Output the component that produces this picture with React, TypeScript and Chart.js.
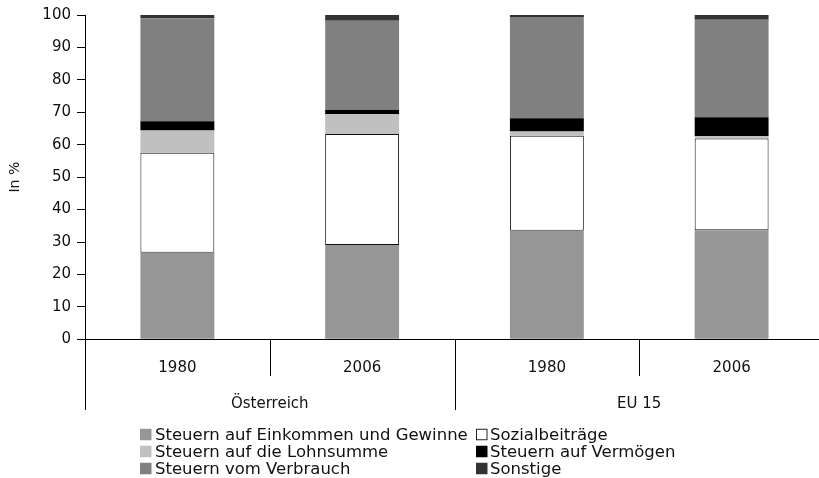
import React, { useEffect, useRef } from "react";
import { Chart, registerables } from "chart.js";

Chart.register(...registerables);

const categories = ["1980", "2006", "1980", "2006"];
const groups = ["Österreich", "EU 15"];
const seriesNames = [
  "Steuern auf Einkommen und Gewinne",
  "Sozialbeiträge",
  "Steuern auf die Lohnsumme",
  "Steuern auf Vermögen",
  "Steuern vom Verbrauch",
  "Sonstige",
];
const einkommen = [26.7, 29.1, 33.5, 33.6];
const sozial = [30.8, 34.2, 29.3, 28.3];
const lohnsumme = [6.9, 6.1, 1.3, 0.7];
const vermoegen = [2.8, 1.3, 4.1, 5.9];
const verbrauch = [31.8, 27.5, 31.2, 30.0];
const sonstige = [1.0, 1.8, 0.6, 1.5];
const yMin = 0;
const yMax = 100;
const yStep = 10;

const fills = ["#969696", "#ffffff", "#c0c0c0", "#000000", "#808080", "#333333"];
const FONT = "'DejaVu Sans', sans-serif";

export default function App() {
  const ref = useRef<HTMLCanvasElement | null>(null);

  useEffect(() => {
    document.body.style.margin = "0";
    const canvas = ref.current;
    if (!canvas) return;
    const values = [einkommen, sozial, lohnsumme, vermoegen, verbrauch, sonstige];

    const overlay = {
      id: "overlay",
      afterDraw(chart: any) {
        const ctx = chart.ctx as CanvasRenderingContext2D;
        const x = chart.scales.x;
        const area = chart.chartArea;
        const left = Math.round(area.left) + 0.5;
        const bottom = area.bottom;
        ctx.save();
        ctx.strokeStyle = "#000";
        ctx.lineWidth = 1;
        // y-axis extension below zero
        ctx.beginPath();
        ctx.moveTo(left, bottom);
        ctx.lineTo(left, 410);
        ctx.stroke();
        // dividers
        const n = categories.length;
        for (let i = 0; i < n - 1; i++) {
          const bx = Math.round((x.getPixelForValue(i) + x.getPixelForValue(i + 1)) / 2) + 0.5;
          const groupEdge = i === 1;
          ctx.beginPath();
          ctx.moveTo(bx, bottom);
          ctx.lineTo(bx, groupEdge ? 410 : 376);
          ctx.stroke();
        }
        // year labels
        ctx.fillStyle = "#111";
        ctx.textAlign = "center";
        ctx.textBaseline = "alphabetic";
        ctx.font = `15px ${FONT}`;
        for (let i = 0; i < n; i++) {
          ctx.fillText(categories[i], x.getPixelForValue(i), 371.5);
        }
        for (let g = 0; g < groups.length; g++) {
          const cx = (x.getPixelForValue(g * 2) + x.getPixelForValue(g * 2 + 1)) / 2;
          ctx.fillText(groups[g], cx, 407.5);
        }
        // legend
        const rowMid = [434.5, 451.5, 468.5];
        const colSq = [140, 476];
        const colTx = [155, 490];
        const sq = 11.5;
        ctx.textAlign = "left";
        ctx.textBaseline = "middle";
        ctx.font = `16.5px ${FONT}`;
        for (let k = 0; k < seriesNames.length; k++) {
          const r = Math.floor(k / 2);
          const c = k % 2;
          const mid = rowMid[r];
          ctx.fillStyle = fills[k];
          ctx.fillRect(colSq[c], mid - sq / 2, sq, sq);
          if (k === 1) {
            ctx.strokeStyle = "#222";
            ctx.strokeRect(colSq[c] + 0.5, mid - sq / 2 + 0.5, sq - 1, sq - 1);
          }
          ctx.fillStyle = "#111";
          ctx.fillText(seriesNames[k], colTx[c], mid + 1);
        }
        ctx.restore();
      },
    };

    const chart = new Chart(canvas, {
      type: "bar",
      data: {
        labels: categories,
        datasets: values.map((v, i) => ({
          label: seriesNames[i],
          data: v,
          backgroundColor: fills[i],
          borderColor: i === 1 ? "#111" : fills[i],
          borderWidth: i === 1 ? 1 : 0,
          borderSkipped: false,
          barPercentage: 0.4,
          categoryPercentage: 1,
        })),
      },
      options: {
        animation: false,
        responsive: false,
        devicePixelRatio: 1,
        layout: { padding: { top: 14, right: 0, bottom: 0, left: 0 } },
        plugins: { legend: { display: false }, tooltip: { enabled: false } },
        scales: {
          x: {
            stacked: true,
            grid: { display: false },
            ticks: { display: false },
            border: { display: true, color: "#000", width: 1 },
            afterFit: (s: any) => {
              s.height = 478 - 339.3;
            },
          },
          y: {
            stacked: true,
            min: yMin,
            max: yMax,
            ticks: {
              stepSize: yStep,
              padding: 6,
              color: "#111",
              font: { family: FONT, size: 15 },
            },
            grid: {
              display: true,
              drawOnChartArea: false,
              drawTicks: true,
              tickLength: 8,
              color: "#000",
            },
            border: { display: true, color: "#000", width: 1 },
            title: {
              display: true,
              text: "In %",
              color: "#111",
              font: { family: FONT, size: 14 },
              padding: { top: 7, bottom: 0 },
            },
            afterFit: (s: any) => {
              s.width = 85;
            },
          },
        },
      },
      plugins: [overlay],
    });
    return () => chart.destroy();
  }, []);

  return (
    <div style={{ width: 819, height: 478, overflow: "hidden", position: "relative", background: "#fff" }}>
      <canvas ref={ref} width={824} height={478} style={{ display: "block" }} />
    </div>
  );
}
